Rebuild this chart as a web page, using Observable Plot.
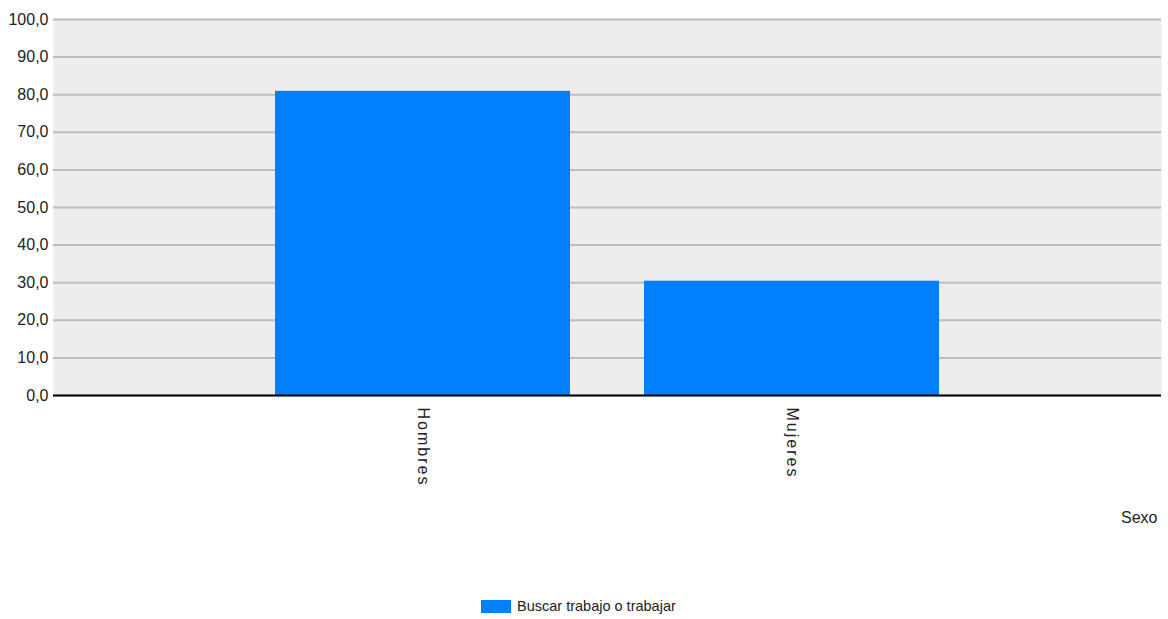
<!DOCTYPE html>
<html>
<head>
<meta charset="utf-8">
<script src="https://cdn.jsdelivr.net/npm/d3@7"></script>
<script src="https://cdn.jsdelivr.net/npm/@observablehq/plot@0.6"></script>
<style>
  html, body { margin: 0; padding: 0; background: #fff; }
  #wrap { position: relative; width: 1168px; height: 619px; font-family: "Liberation Sans", Arial, sans-serif; }
  #legend { position: absolute; left: 481px; top: 598px; display: flex; align-items: center; font-size: 14.5px; color: #222; }
  #legend .sw { width: 30px; height: 13px; background: #0080ff; margin-right: 6px; }
</style>
</head>
<body>
<div id="wrap">
  <div id="chart"></div>
  <div id="legend"><span class="sw"></span><span id="legend-text"></span></div>
</div>
<script>
const categories = ["Hombres", "Mujeres"];
const values = [80.9, 30.4];
const yTicks = [0, 10, 20, 30, 40, 50, 60, 70, 80, 90, 100];
const seriesName = "Buscar trabajo o trabajar";
const axisTitle = "Sexo";

const data = categories.map((c, i) => ({sexo: c, valor: values[i]}));
const fmt = d => d.toFixed(1).replace(".", ",");

const chart = Plot.plot({
  width: 1168,
  height: 580,
  marginLeft: 53,
  marginRight: 7,
  marginTop: 19,
  marginBottom: 185,
  style: {fontFamily: "'Liberation Sans', Arial, sans-serif", background: "white", color: "#222"},
  x: {domain: categories, paddingInner: 0.2, paddingOuter: 0.6},
  y: {domain: [0, 100]},
  marks: [
    Plot.frame({fill: "#ededed", stroke: null}),
    Plot.gridY(yTicks, {stroke: "#bdbdbd", strokeOpacity: 1, strokeWidth: 2}),
    Plot.barY(data, {x: "sexo", y: "valor", fill: "#0080ff"}),
    Plot.ruleY([0], {stroke: "#000", strokeWidth: 2}),
    Plot.axisY(yTicks, {tickSize: 0, tickPadding: 5, tickFormat: fmt, fontSize: 16, label: null}),
    Plot.axisX({tickSize: 0, tickRotate: 90, tickPadding: 12, fontSize: 16, label: axisTitle, labelAnchor: "right", labelOffset: 127})
  ]
});
document.getElementById("chart").appendChild(chart);
chart.querySelectorAll('[aria-label="x-axis tick label"] text').forEach(t => { t.style.letterSpacing = "2px"; });
chart.querySelectorAll('[aria-label="x-axis label"] text').forEach(t => {
  const tr = t.getAttribute("transform") || "";
  t.setAttribute("transform", tr + " translate(-8,0)");
});
document.getElementById("legend-text").textContent = seriesName;
</script>
</body>
</html>
